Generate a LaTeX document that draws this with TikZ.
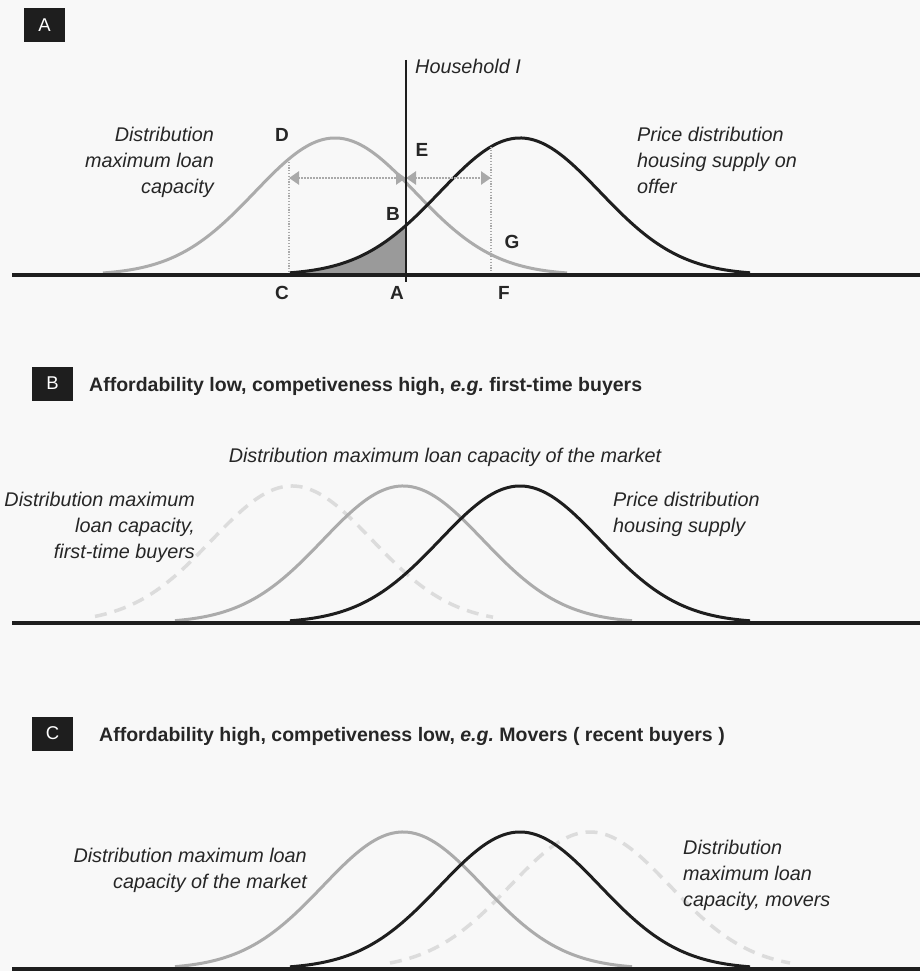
\documentclass[tikz,border=0pt]{standalone}
\usepackage{fontspec}
\setmainfont{Liberation Sans}
\usetikzlibrary{arrows.meta}
\frenchspacing
\definecolor{bgc}{HTML}{F8F8F8}
\definecolor{ink}{HTML}{1E1E1E}
\definecolor{txt}{HTML}{262626}
\definecolor{lgray}{HTML}{ABABAB}
\definecolor{dgray}{HTML}{DCDCDC}
\definecolor{shadec}{HTML}{9A9A9A}
\definecolor{arrg}{HTML}{A9A9A9}
\newcommand\gaussline[5]{\draw[#1] plot[domain=#4:#5,samples=140] (\x,{#3-137*exp(-0.5*((\x-#2)/80)^2)});}
\tikzset{
  blackcurve/.style={draw=ink,line width=3pt},
  graycurve/.style={draw=lgray,line width=3pt},
  dashcurve/.style={draw=dgray,line width=3.5pt,dash pattern=on 12pt off 8pt},
  axisline/.style={draw=ink,line width=4.5pt},
  boxlab/.style={fill=ink,text=white,minimum width=41pt,minimum height=34pt,inner sep=0pt,font=\fontsize{18.5}{22}\selectfont},
  titletext/.style={text=txt,inner sep=0pt,font=\bfseries\fontsize{19.5}{23}\selectfont},
  letterlab/.style={text=txt,inner sep=0pt,font=\bfseries\fontsize{19}{22}\selectfont},
  note/.style={text=txt,inner sep=0pt,font=\itshape\fontsize{19.8}{26}\selectfont},
  vdots/.style={draw=arrg,line width=1.5pt,dash pattern=on 1.2pt off 1.6pt},
  hdots/.style={draw=arrg,line width=2.5pt,dash pattern=on 1.5pt off 1.5pt,{Triangle[length=10pt,width=13pt,fill=arrg]}-{Triangle[length=10pt,width=13pt,fill=arrg]}},
}
\begin{document}
\begin{tikzpicture}[x=1pt,y=-1pt]
\useasboundingbox (0,0) rectangle (920,971);
\fill[bgc] (0,0) rectangle (920,971);

% ---------------- Panel A ----------------
\node[boxlab] (boxA) at (44.5,25) {A};
\fill[shadec] (290,275) -- plot[domain=290:406,samples=60] (\x,{275-137*exp(-0.5*((\x-520)/80)^2)}) -- (406,275) -- cycle;
\gaussline{graycurve}{335}{275}{103}{567}
\gaussline{blackcurve}{520}{275}{290}{750}
\coordinate (cTop) at (289,159);
\coordinate (cBot) at (289,275);
\coordinate (fTop) at (491,147);
\coordinate (fBot) at (491,275);
\draw[vdots] (cTop) -- (cBot);
\draw[vdots] (fTop) -- (fBot);
\coordinate (pC) at (289,178);
\coordinate (pA) at (406,178);
\coordinate (pF) at (491,178);
\draw[hdots] (pC) -- (pA);
\draw[hdots] (pA) -- (pF);
\coordinate (hhTop) at (406,60);
\coordinate (hhBot) at (406,282);
\draw[draw=ink,line width=1.3pt] (hhTop) -- (hhBot);
\coordinate (axAl) at (12,275);
\coordinate (axAr) at (920,275);
\draw[axisline] (axAl) -- (axAr);
\node[note,anchor=base west] (hh) at (415,74) {Household I};
\node[note,anchor=north east,align=right] (loanA) at (214,127) {Distribution\\maximum loan\\capacity};
\node[note,anchor=north west,align=left] (priceA) at (637,127) {Price distribution\\housing supply on\\offer};
\node[letterlab] (lD) at (282,135) {D};
\node[letterlab] (lE) at (422,150) {E};
\node[letterlab] (lB) at (393,214) {B};
\node[letterlab] (lG) at (512,242) {G};
\node[letterlab] (lC) at (282,293) {C};
\node[letterlab] (lA) at (397,293) {A};
\node[letterlab] (lF) at (504,293) {F};

% ---------------- Panel B ----------------
\node[boxlab] (boxB) at (52.5,383.5) {B};
\node[titletext,anchor=base west] (titleB) at (89,391) {Affordability low, competiveness high, \textit{e.g.} first-time buyers};
\gaussline{dashcurve}{292}{623}{95}{493}
\gaussline{graycurve}{403}{623}{175}{632}
\gaussline{blackcurve}{520}{623}{290}{750}
\coordinate (axBl) at (12,623);
\coordinate (axBr) at (920,623);
\draw[axisline] (axBl) -- (axBr);
\node[note,anchor=north] (marketB) at (445,448) {Distribution maximum loan capacity of the market};
\node[note,anchor=north east,align=right] (firstB) at (195,492) {Distribution maximum\\loan capacity,\\first-time buyers};
\node[note,anchor=north west,align=left] (priceB) at (613,492) {Price distribution\\housing supply};

% ---------------- Panel C ----------------
\node[boxlab] (boxC) at (52.5,733.5) {C};
\node[titletext,anchor=base west] (titleC) at (99,741) {Affordability high, competiveness low, \textit{e.g.} Movers ( recent buyers )};
\gaussline{dashcurve}{590}{969}{390}{790}
\gaussline{graycurve}{403}{969}{175}{632}
\gaussline{blackcurve}{520}{969}{290}{750}
\coordinate (axCl) at (12,969);
\coordinate (axCr) at (920,969);
\draw[axisline] (axCl) -- (axCr);
\node[note,anchor=north east,align=right] (marketC) at (307,848) {Distribution maximum loan\\capacity of the market};
\node[note,anchor=north west,align=left] (moversC) at (683,840) {Distribution\\maximum loan\\capacity, movers};
\end{tikzpicture}
\end{document}
